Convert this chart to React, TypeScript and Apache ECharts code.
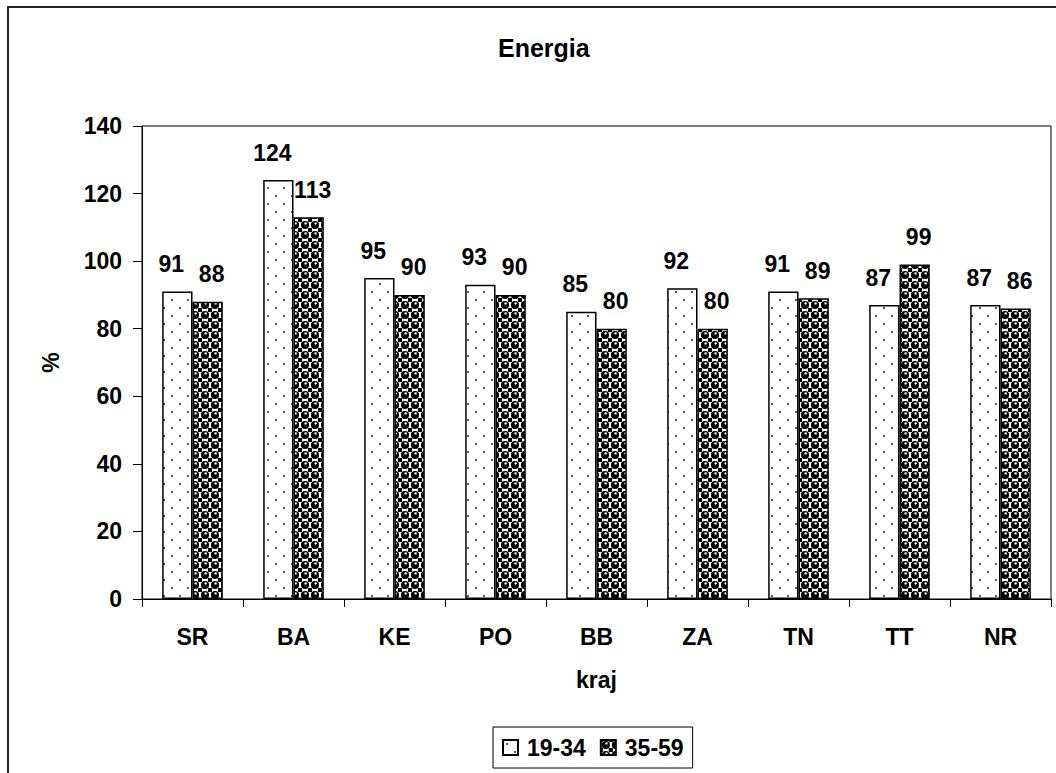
import React, { useEffect, useRef } from "react";
import * as echarts from "echarts";

// Regions (kraje) and energy intake (% of recommended) per age group
const categories = ["SR", "BA", "KE", "PO", "BB", "ZA", "TN", "TT", "NR"];
const group1934 = [91, 124, 95, 93, 85, 92, 91, 87, 87];
const group3559 = [88, 113, 90, 90, 80, 80, 89, 99, 86];
const seriesNames = ["19-34", "35-59"];
const yMin = 0;
const yMax = 140;
const yStep = 20;

const FONT = "'Liberation Sans', Arial, Helvetica, sans-serif";
const TXT = 23;

// Sparse dotted fill for the younger group
function dottedPattern(): string {
  const c = document.createElement("canvas");
  c.width = 16;
  c.height = 16;
  const g = c.getContext("2d")!;
  g.fillStyle = "#ffffff";
  g.fillRect(0, 0, 16, 16);
  g.fillStyle = "#333333";
  g.beginPath();
  g.arc(4, 4, 1.1, 0, Math.PI * 2);
  g.fill();
  g.beginPath();
  g.arc(12, 12, 1.1, 0, Math.PI * 2);
  g.fill();
  return c.toDataURL();
}

// Checker-with-spheres fill for the older group
function spherePattern(): string {
  const c = document.createElement("canvas");
  c.width = 10;
  c.height = 10;
  const g = c.getContext("2d")!;
  g.fillStyle = "#ffffff";
  g.fillRect(0, 0, 10, 10);
  g.fillStyle = "#000000";
  g.fillRect(0, 0, 2, 2);
  g.fillRect(8, 0, 2, 2);
  g.fillRect(0, 8, 2, 2);
  g.fillRect(8, 8, 2, 2);
  g.beginPath();
  g.arc(5, 5, 4.1, 0, Math.PI * 2);
  g.fill();
  g.fillStyle = "#ffffff";
  g.beginPath();
  g.arc(5.6, 3.4, 1.2, 0, Math.PI * 2);
  g.fill();
  return c.toDataURL();
}

export default function App() {
  const ref = useRef<HTMLDivElement>(null);

  useEffect(() => {
    if (!ref.current) return;
    const chart = echarts.init(ref.current, undefined, { renderer: "svg" });

    const dots = { image: dottedPattern(), repeat: "repeat" };
    const spheres = { image: spherePattern(), repeat: "repeat" };

    const labelStyle = (dx: number) => ({
      show: true,
      position: "top",
      distance: 16,
      offset: [dx, 0],
      color: "#000",
      fontSize: TXT,
      fontWeight: "bold",
      fontFamily: FONT,
    });

    const axisText = { color: "#000", fontSize: TXT, fontWeight: "bold", fontFamily: FONT };

    chart.setOption({
      animation: false,
      backgroundColor: "#ffffff",
      title: {
        text: "Energia",
        left: 493,
        top: 30,
        textStyle: { color: "#000", fontSize: 25, fontWeight: "bold", fontFamily: FONT },
      },
      graphic: [
        {
          type: "rect",
          shape: { x: 8, y: 7, width: 1100, height: 800 },
          style: { fill: "none", stroke: "#222", lineWidth: 2 },
          silent: true,
          z: -1,
        },
      ],
      legend: {
        data: seriesNames,
        left: 493,
        top: 727,
        padding: [9, 9, 9, 9],
        itemGap: 14,
        itemWidth: 15,
        itemHeight: 15,
        icon: "rect",
        borderColor: "#000",
        borderWidth: 1,
        textStyle: { ...axisText, padding: [0, 0, 0, 4] },
      },
      grid: {
        left: 142,
        right: 5,
        top: 126,
        bottom: 174,
        show: true,
        borderColor: "#000",
        borderWidth: 1,
        backgroundColor: "transparent",
      },
      xAxis: {
        type: "category",
        data: categories,
        name: "kraj",
        nameLocation: "middle",
        nameGap: 69,
        nameTextStyle: axisText,
        axisLine: { lineStyle: { color: "#000", width: 1 } },
        axisTick: { show: true, length: 8, lineStyle: { color: "#000" } },
        axisLabel: { ...axisText, margin: 26 },
      },
      yAxis: {
        type: "value",
        min: yMin,
        max: yMax,
        interval: yStep,
        name: "%",
        nameLocation: "middle",
        nameRotate: 90,
        nameGap: 80,
        nameTextStyle: axisText,
        axisLine: { show: true, lineStyle: { color: "#000", width: 1 } },
        axisTick: { show: true, length: 9, lineStyle: { color: "#000" } },
        splitLine: { show: false },
        axisLabel: { ...axisText, margin: 20 },
      },
      series: [
        {
          name: seriesNames[0],
          type: "bar",
          data: group1934,
          barGap: "0%",
          barCategoryGap: "40%",
          itemStyle: { color: dots, borderColor: "#000", borderWidth: 1.5 },
          label: labelStyle(-6),
        },
        {
          name: seriesNames[1],
          type: "bar",
          data: group3559,
          barGap: "0%",
          barCategoryGap: "40%",
          itemStyle: { color: spheres, borderColor: "#000", borderWidth: 1.5 },
          label: labelStyle(4),
        },
      ],
    });

    return () => chart.dispose();
  }, []);

  return (
    <div
      ref={ref}
      style={{ position: "fixed", left: 0, top: 0, width: 1056, height: 773, background: "#fff" }}
    />
  );
}
